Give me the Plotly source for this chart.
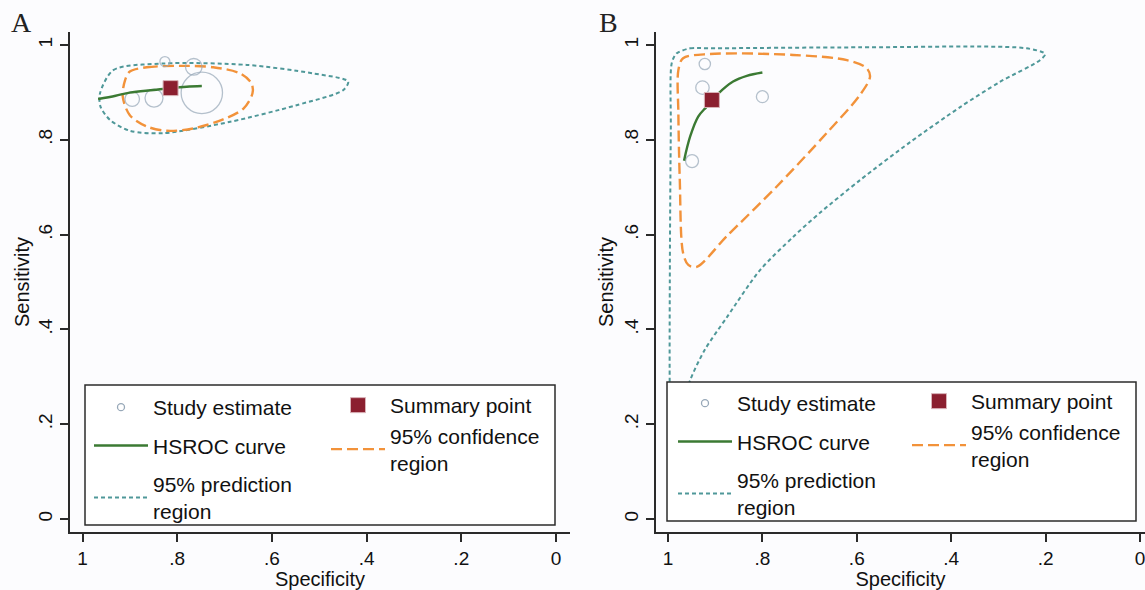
import math
import plotly.graph_objects as go

# ---------------- Data ----------------
tick_vals = [0, 0.2, 0.4, 0.6, 0.8, 1]
tick_text = ["0", ".2", ".4", ".6", ".8", "1"]

# Panel A
a_study_spec = [0.826, 0.895, 0.765, 0.849, 0.748]
a_study_sens = [0.965, 0.886, 0.954, 0.888, 0.899]
a_study_weight = [25, 53, 69, 81, 428]
a_summary_spec = [0.814]
a_summary_sens = [0.909]
a_hsroc_spec = [0.967, 0.930, 0.900, 0.850, 0.814, 0.780, 0.748]
a_hsroc_sens = [0.886, 0.893, 0.8995, 0.905, 0.909, 0.912, 0.9135]
a_conf_spec = [0.900, 0.864, 0.794, 0.724, 0.667, 0.643, 0.641, 0.660, 0.703,
               0.766, 0.822, 0.864, 0.900, 0.915, 0.910]
a_conf_sens = [0.944, 0.953, 0.956, 0.953, 0.940, 0.919, 0.898, 0.866, 0.843,
               0.824, 0.819, 0.828, 0.852, 0.891, 0.926]
a_pred_spec = [0.963, 0.935, 0.829, 0.653, 0.513, 0.439, 0.449, 0.548, 0.688,
               0.829, 0.900, 0.942, 0.962]
a_pred_sens = [0.898, 0.947, 0.961, 0.958, 0.940, 0.923, 0.905, 0.873, 0.838,
               0.814, 0.819, 0.842, 0.870]

# Panel B
b_study_spec = [0.922, 0.927, 0.800, 0.949]
b_study_sens = [0.960, 0.910, 0.891, 0.755]
b_study_weight = [32, 45, 36, 42]
b_summary_spec = [0.907]
b_summary_sens = [0.884]
b_hsroc_spec = [0.966, 0.953, 0.936, 0.918, 0.893, 0.862, 0.833, 0.800]
b_hsroc_sens = [0.756, 0.807, 0.849, 0.870, 0.898, 0.923, 0.935, 0.942]
b_conf_spec = [0.968, 0.911, 0.735, 0.621, 0.579, 0.572, 0.593, 0.664, 0.770,
               0.876, 0.939, 0.957, 0.968, 0.975, 0.978, 0.978]
b_conf_sens = [0.972, 0.981, 0.979, 0.968, 0.951, 0.933, 0.895, 0.814, 0.701,
               0.596, 0.532, 0.536, 0.561, 0.715, 0.856, 0.947]
b_pred_spec = [0.982, 0.953, 0.911, 0.593, 0.240, 0.201, 0.212, 0.297, 0.381,
               0.487, 0.593, 0.678, 0.735, 0.805, 0.875, 0.922, 0.953, 0.975,
               0.992, 0.996, 0.996, 0.994, 0.992]
b_pred_sens = [0.982, 0.993, 0.993, 0.995, 0.993, 0.981, 0.968, 0.922, 0.869,
               0.795, 0.715, 0.646, 0.595, 0.525, 0.426, 0.357, 0.293, 0.219,
               0.146, 0.251, 0.540, 0.821, 0.962]

legend_labels = ["Study estimate", "HSROC curve", "95% prediction<br>region",
                 "Summary point", "95% confidence<br>region"]

# ---------------- Styles ----------------
W, H = 1145, 590
BG = "#fcfcfe"
AX = "#2a2a2a"
GREEN = "#3b7a33"
ORANGE = "#f2923a"
TEAL = "#4f9899"
MAROON = "#8b1f2f"
CIRCLE = "#97a8b8"
FONT = "Liberation Sans, Arial, sans-serif"
TXT = "#111111"


def closed(xs):
    return list(xs) + [xs[0]]


def px_x(p):
    return p / W


def px_y(p):
    return (H - p) / H


fig = go.Figure()


def add_panel(xa, ya, lg1, lg2, pred, conf, study, hsroc, summ):
    fig.add_trace(go.Scatter(
        x=closed(pred[0]), y=closed(pred[1]), mode="lines", xaxis=xa, yaxis=ya,
        name=legend_labels[2], legend=lg1, legendgroup=lg1 + "p", legendrank=3,
        line=dict(color=TEAL, width=2, dash="4px,3px", shape="spline", smoothing=0.8)))
    fig.add_trace(go.Scatter(
        x=closed(conf[0]), y=closed(conf[1]), mode="lines", xaxis=xa, yaxis=ya,
        name=legend_labels[4], legend=lg2, legendgroup=lg2 + "c", legendrank=2,
        line=dict(color=ORANGE, width=2.4, dash="11px,5px", shape="spline", smoothing=0.9)))
    # study estimates (sized by weight); legend symbol drawn by a proxy entry
    fig.add_trace(go.Scatter(
        x=study[0], y=study[1], mode="markers", xaxis=xa, yaxis=ya,
        name=legend_labels[0], showlegend=False, legend=lg1,
        marker=dict(symbol="circle", size=[2 * math.sqrt(w) for w in study[2]],
                    color="rgba(0,0,0,0)", line=dict(color=CIRCLE, width=1.3))))
    fig.add_trace(go.Scatter(
        x=[None], y=[None], mode="markers", xaxis=xa, yaxis=ya,
        name=legend_labels[0], legend=lg1, legendgroup=lg1 + "s", legendrank=1,
        marker=dict(symbol="circle", size=7, color="rgba(0,0,0,0)",
                    line=dict(color=CIRCLE, width=1.3))))
    fig.add_trace(go.Scatter(
        x=hsroc[0], y=hsroc[1], mode="lines", xaxis=xa, yaxis=ya,
        name=legend_labels[1], legend=lg1, legendgroup=lg1 + "h", legendrank=2,
        line=dict(color=GREEN, width=2.4, shape="spline")))
    fig.add_trace(go.Scatter(
        x=summ[0], y=summ[1], mode="markers", xaxis=xa, yaxis=ya,
        name=legend_labels[3], legend=lg2, legendgroup=lg2 + "m", legendrank=1,
        marker=dict(symbol="square", size=15, color=MAROON,
                    line=dict(color="#d9b3b8", width=1))))


add_panel("x", "y", "legend", "legend2",
          (a_pred_spec, a_pred_sens), (a_conf_spec, a_conf_sens),
          (a_study_spec, a_study_sens, a_study_weight),
          (a_hsroc_spec, a_hsroc_sens), (a_summary_spec, a_summary_sens))
add_panel("x2", "y2", "legend3", "legend4",
          (b_pred_spec, b_pred_sens), (b_conf_spec, b_conf_sens),
          (b_study_spec, b_study_sens, b_study_weight),
          (b_hsroc_spec, b_hsroc_sens), (b_summary_spec, b_summary_sens))

y_dom = [px_y(532), px_y(32)]
y_rng = [-0.0274, 1.0274]

axis_common = dict(showgrid=False, zeroline=False, showline=True, linecolor=AX, linewidth=1.5,
                   ticks="outside", ticklen=8, tickwidth=1.5, tickcolor=AX,
                   tickvals=tick_vals, ticktext=tick_text, automargin=False,
                   ticklabeloverflow="allow",
                   tickfont=dict(family=FONT, size=19, color=TXT))

xa = dict(axis_common, domain=[px_x(70), px_x(570)], range=[1.0264, -0.0296], anchor="y",
          title=dict(text="Specificity", font=dict(family=FONT, size=20, color=TXT), standoff=0))
ya = dict(axis_common, domain=y_dom, range=y_rng, anchor="x", tickangle=-90,
          ticklabelstandoff=1)
xb = dict(axis_common, domain=[px_x(656), 1.0], range=[1.0254, -0.0106], anchor="y2",
          title=dict(text="Specificity", font=dict(family=FONT, size=20, color=TXT), standoff=0))
yb = dict(axis_common, domain=y_dom, range=y_rng, anchor="x2", tickangle=-90,
          ticklabelstandoff=1)

leg_common = dict(bgcolor="rgba(0,0,0,0)", borderwidth=0, orientation="v", itemwidth=54,
                  font=dict(family=FONT, size=21, color=TXT), xanchor="left", yanchor="top",
                  valign="middle", traceorder="grouped", itemclick=False, itemdoubleclick=False)

fig.update_layout(
    width=W, height=H, autosize=False,
    margin=dict(l=0, r=0, t=0, b=0),
    paper_bgcolor=BG, plot_bgcolor=BG,
    template="none",
    showlegend=True,
    xaxis=xa, yaxis=ya, xaxis2=xb, yaxis2=yb,
    legend=dict(leg_common, x=px_x(89), y=px_y(387), tracegroupgap=8),
    legend2=dict(leg_common, x=px_x(326), y=px_y(385), tracegroupgap=0),
    legend3=dict(leg_common, x=px_x(673), y=px_y(383), tracegroupgap=8),
    legend4=dict(leg_common, x=px_x(907), y=px_y(381), tracegroupgap=0),
    shapes=[
        dict(type="rect", xref="paper", yref="paper", layer="above",
             x0=px_x(85), x1=px_x(555), y0=px_y(525), y1=px_y(385),
             fillcolor="white", line=dict(color="#2b2b2b", width=1.5)),
        dict(type="rect", xref="paper", yref="paper", layer="above",
             x0=px_x(667), x1=px_x(1136), y0=px_y(521), y1=px_y(382),
             fillcolor="white", line=dict(color="#2b2b2b", width=1.5)),
    ],
    annotations=[
        dict(text="A", xref="paper", yref="paper", x=px_x(9), y=px_y(5),
             xanchor="left", yanchor="top", showarrow=False,
             font=dict(family="Liberation Serif, serif", size=28, color="#222")),
        dict(text="B", xref="paper", yref="paper", x=px_x(597), y=px_y(5),
             xanchor="left", yanchor="top", showarrow=False,
             font=dict(family="Liberation Serif, serif", size=28, color="#222")),
        dict(text="Sensitivity", xref="paper", yref="paper", x=px_x(22), y=px_y(282),
             xanchor="center", yanchor="middle", textangle=-90, showarrow=False,
             font=dict(family=FONT, size=20, color=TXT)),
        dict(text="Sensitivity", xref="paper", yref="paper", x=px_x(606), y=px_y(282),
             xanchor="center", yanchor="middle", textangle=-90, showarrow=False,
             font=dict(family=FONT, size=20, color=TXT)),
    ],
)

fig.write_html("out.html", config={"displayModeBar": False},
               post_script="document.body.style.margin='0';document.body.style.overflow='hidden';")
